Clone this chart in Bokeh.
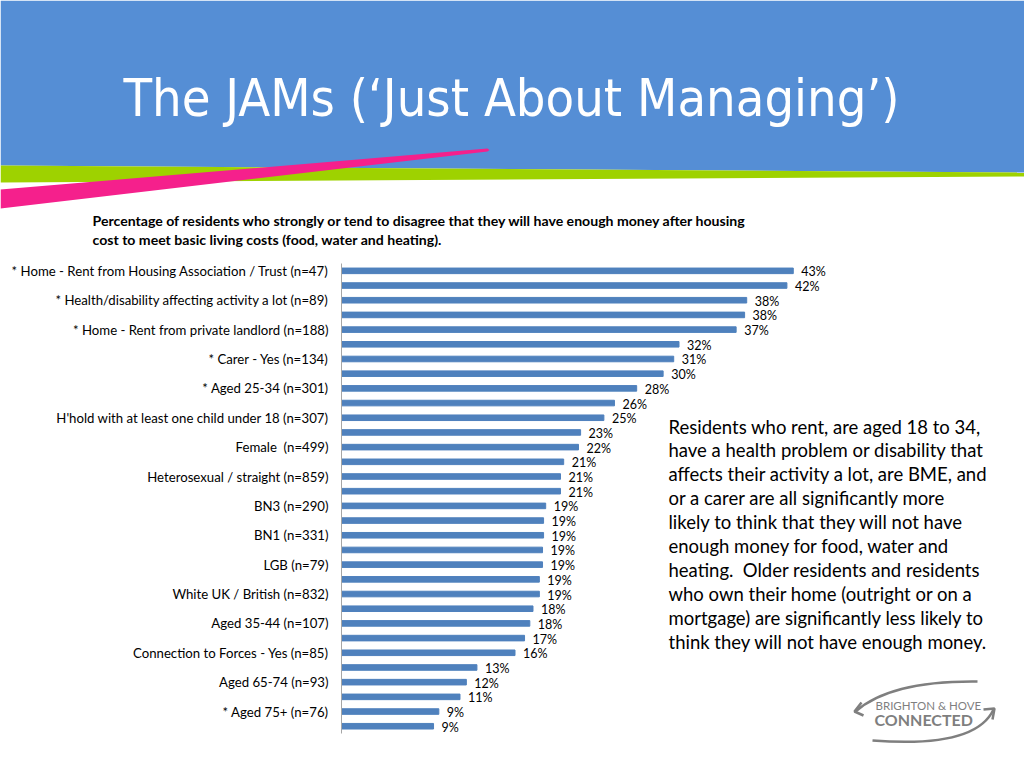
from bokeh.plotting import figure
from bokeh.models import Range1d, FixedTicker, LinearAxis
from bokeh.core.properties import value
from bokeh.embed import file_html
from bokeh.resources import INLINE

# ---------------- data ----------------
categories = [
    "* Home - Rent from Housing Association / Trust (n=47)", "",
    "* Health/disability affecting activity a lot (n=89)", "",
    "* Home - Rent from private landlord (n=188)", "",
    "* Carer - Yes (n=134)", "",
    "* Aged 25-34 (n=301)", "",
    "H'hold with at least one child under 18 (n=307)", "",
    "Female\u00a0 (n=499)", "",
    "Heterosexual / straight (n=859)", "",
    "BN3 (n=290)", "",
    "BN1 (n=331)", "",
    "LGB (n=79)", "",
    "White UK / British (n=832)", "",
    "Aged 35-44 (n=107)", "",
    "Connection to Forces - Yes (n=85)", "",
    "Aged 65-74 (n=93)", "",
    "* Aged 75+ (n=76)", "",
]
values = [42.7, 42.1, 38.3, 38.1, 37.3, 31.9, 31.4, 30.4, 27.9, 25.8,
          24.8, 22.6, 22.4, 21.0, 20.7, 20.7, 19.3, 19.1, 19.1, 19.0,
          19.0, 18.7, 18.7, 18.1, 17.8, 17.3, 16.4, 12.8, 11.8, 11.2,
          9.2, 8.7]
value_labels = [43, 42, 38, 38, 37, 32, 31, 30, 28, 26,
                25, 23, 22, 21, 21, 21, 19, 19, 19, 19,
                19, 19, 19, 18, 18, 17, 16, 13, 12, 11,
                9, 9]

title_text = "The JAMs (\u2018Just About Managing\u2019)"
subtitle_lines = [
    "Percentage of residents who strongly or tend to disagree that they will have enough money after housing",
    "cost to meet basic living costs (food, water and heating).",
]
note_lines = [
    "Residents who rent, are aged 18 to 34,",
    "have a health problem or disability that",
    "affects their activity a lot, are BME, and",
    "or a carer are all significantly more",
    "likely to think that they will not have",
    "enough money for food, water and",
    "heating.\u00a0 Older residents and residents",
    "who own their home (outright or on a",
    "mortgage) are significantly less likely to",
    "think they will not have enough money.",
]

BLUE = "#558ED5"
GREEN = "#9ED200"
PINK = "#F5208C"
BAR = "#4F81BD"
GREY = "#7F7F7F"
FONT = value("Lato")

# ---------------- single figure, frame = whole canvas ----------------
W, H = 1024, 768
n = len(values)
idx = list(range(1, n + 1))
px_per_pct = 10.58        # horizontal scale of the bars
band = 14.69              # vertical spacing of the bars
x0_px, top_px = 341, 263  # where value 0 and the first band's top lie

p = figure(width=W, height=H, output_backend="svg", toolbar_location=None,
           x_range=Range1d((0 - x0_px) / px_per_pct, (W - x0_px) / px_per_pct),
           y_range=Range1d(0.5 + (H - top_px) / band, 0.5 - top_px / band),
           x_axis_location=None, y_axis_location=None, min_border=0)
p.extra_x_ranges = {"px": Range1d(0, W)}
p.extra_y_ranges = {"px": Range1d(H, 0)}
p.grid.visible = False
p.outline_line_color = None
p.background_fill_color = "white"

PX = dict(x_range_name="px", y_range_name="px")

# header decoration
p.patch([0, 1024, 1024, 0], [0, 0, 172, 165], color=BLUE, line_width=0, **PX)
p.patch([0, 1024, 1024, 0], [165, 172, 176, 182], color=GREEN, line_width=0, **PX)
p.patch([0, 487, 489, 487, 0], [189, 148, 149.5, 151, 208], color=PINK, line_width=0, **PX)

p.text(x=[511], y=[97], text=[title_text], text_align="center",
       text_baseline="alphabetic", text_color="white", text_font_size="52px",
       text_font=value("DejaVu Sans Condensed"), **PX)
p.text(x=[92, 92], y=[220, 239], text=subtitle_lines, text_align="left",
       text_baseline="middle", text_color="black", text_font_size="14.1px",
       text_font_style="bold", text_font=FONT, **PX)

# bars and their labels
p.hbar(y=idx, left=0, right=values, height=0.38, color=BAR)
p.text(x=values, y=idx, text=[f"{v}%" for v in value_labels], x_offset=8, y_offset=1,
       text_align="left", text_baseline="middle", text_font_size="12.5px",
       text_color="black", text_font=FONT)

# category axis drawn at value 0
ax = LinearAxis(fixed_location=0)
ax.ticker = FixedTicker(ticks=[i for i, c in zip(idx, categories) if c])
ax.major_label_overrides = {i: c for i, c in zip(idx, categories) if c}
ax.bounds = (0.5, n + 0.5)
ax.axis_line_color = "#A6A6A6"
ax.major_tick_line_color = None
ax.minor_tick_line_color = None
ax.major_tick_out = 0
ax.major_tick_in = 0
ax.major_label_standoff = 13
ax.major_label_text_font = "Lato"
ax.major_label_text_font_size = "13.2px"
ax.major_label_text_color = "black"
p.add_layout(ax, "left")

# explanatory note
p.text(x=[668] * len(note_lines), y=[426 + 23.9 * i for i in range(len(note_lines))],
       text=note_lines, text_align="left", text_baseline="middle",
       text_font_size="18.5px", text_color="black", text_font=FONT, **PX)

# logo
p.quadratic(x0=[977, 872], y0=[681, 740], x1=[855, 993], y1=[711, 709],
            cx=[890, 975], cy=[680, 748], line_color=GREY, line_width=2.5, **PX)
p.multi_line(xs=[[861, 854, 863], [983, 994, 992]], ys=[[702, 711, 715], [709, 708, 719]],
             line_color=GREY, line_width=2.5, **PX)
p.text(x=[875], y=[705], text=["BRIGHTON & HOVE"], text_align="left",
       text_baseline="middle", text_font_size="11.5px", text_color=GREY, text_font=FONT, **PX)
p.text(x=[874], y=[719], text=["CONNECTED"], text_align="left", text_baseline="middle",
       text_font_size="16px", text_font_style="bold", text_color=GREY, text_font=FONT, **PX)

open("out.html", "w").write(file_html(p, INLINE))
